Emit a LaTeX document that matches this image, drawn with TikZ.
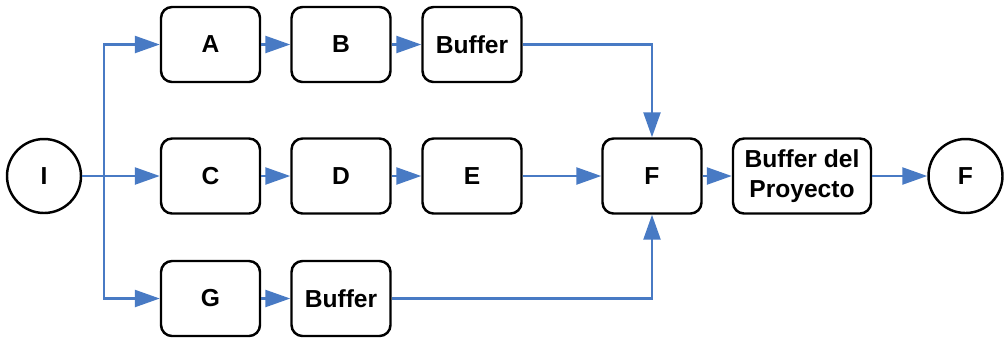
\documentclass[tikz,border=0pt]{standalone}
\usepackage{fontspec}
\setmainfont{Liberation Sans}
\usepackage{xcolor}
\usetikzlibrary{arrows.meta,positioning}
\definecolor{flowblue}{RGB}{72,122,196}

\tikzset{
  box/.style={draw,line width=1.4pt,rounded corners=0.22cm,minimum width=1.98cm,
    minimum height=1.5cm,inner sep=0pt,align=center,font=\bfseries\fontsize{14}{17}\selectfont},
  circ/.style={draw,line width=1.4pt,circle,minimum size=1.48cm,inner sep=0pt,
    font=\bfseries\fontsize{14}{17}\selectfont},
  flow/.style={draw=flowblue,line width=1.4pt,-{Triangle[length=0.5cm,width=0.34cm]}}
}

\begin{document}
\begin{tikzpicture}
  \useasboundingbox (0,0) rectangle (20.08,-6.74);

  \node[circ] (inicio) at (0.88,-3.52) {I};
  \coordinate (split) at (2.08,-3.52);

  \node[box] (A) at (4.21,-0.89) {A};
  \node[box] (B) at (6.82,-0.89) {B};
  \node[box] (buf1) at (9.44,-0.89) {Buffer};

  \node[box] (C) at (4.21,-3.52) {C};
  \node[box] (D) at (6.82,-3.52) {D};
  \node[box] (E) at (9.44,-3.52) {E};
  \node[box] (F) at (13.04,-3.52) {F};
  \node[box,minimum width=2.76cm] (bufp) at (16.04,-3.52) {Buffer del\\Proyecto};
  \node[circ] (fin) at (19.31,-3.52) {F};

  \node[box] (G) at (4.21,-5.97) {G};
  \node[box] (buf2) at (6.82,-5.97) {Buffer};

  % ramas desde el inicio
  \draw[flow] (inicio) -- (C);
  \draw[flow] (split) |- (A);
  \draw[flow] (split) |- (G);

  \draw[flow] (A) -- (B);
  \draw[flow] (B) -- (buf1);
  \draw[flow] (C) -- (D);
  \draw[flow] (D) -- (E);
  \draw[flow] (E) -- (F);
  \draw[flow] (G) -- (buf2);

  % entradas a F
  \draw[flow] (buf1) -| (F);
  \draw[flow] (buf2) -| (F);

  \draw[flow] (F) -- (bufp);
  \draw[flow] (bufp) -- (fin);
\end{tikzpicture}
\end{document}
